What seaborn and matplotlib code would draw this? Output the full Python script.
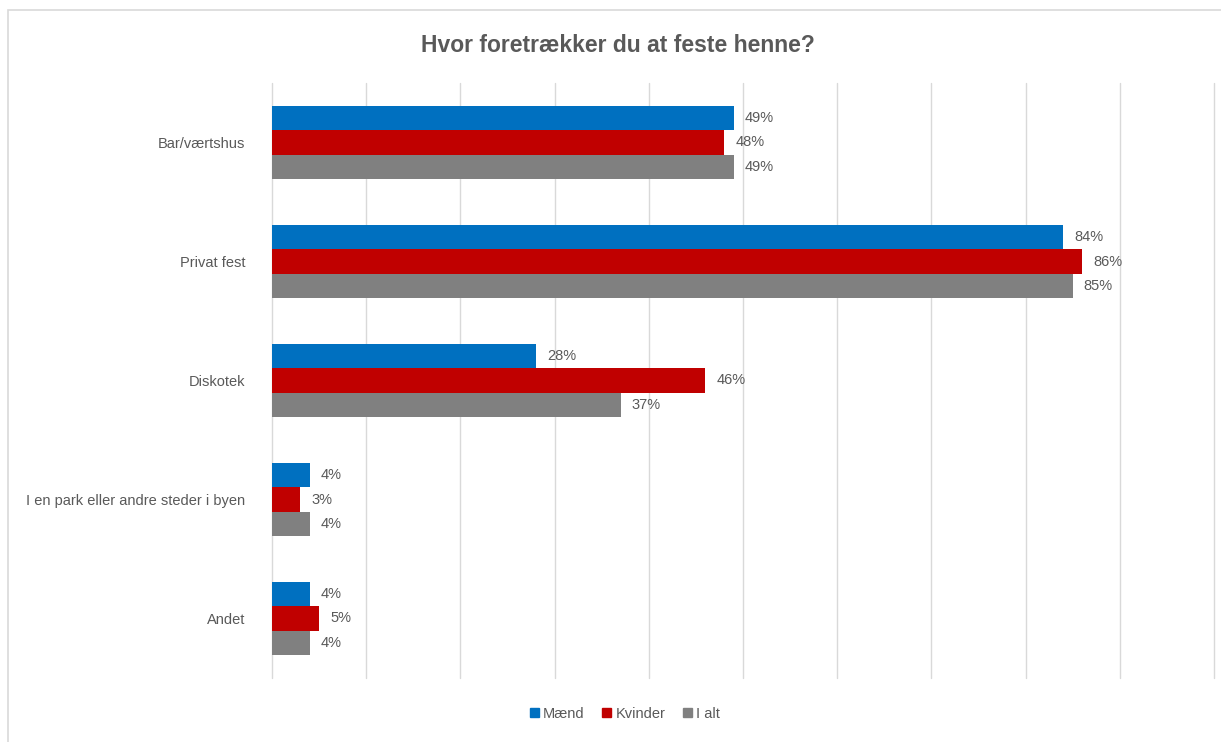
import pandas as pd
import matplotlib.pyplot as plt
import matplotlib.patches as mpatches
import seaborn as sns

# Data (percent)
categories = ["Bar/værtshus", "Privat fest", "Diskotek",
              "I en park eller andre steder i byen", "Andet"]
maend = [49, 84, 28, 4, 4]
kvinder = [48, 86, 46, 3, 5]
i_alt = [49, 85, 37, 4, 4]
series_names = ["Mænd", "Kvinder", "I alt"]
colors = ["#0070C0", "#C00000", "#808080"]

sns.set_style("white")
plt.rcParams['font.family'] = ['Liberation Sans Narrow', 'Liberation Sans', 'DejaVu Sans']
text_color = "#595959"

df = pd.DataFrame({
    "Sted": categories * 3,
    "Serie": [s for s in series_names for _ in categories],
    "Andel": [v / 100 for v in maend + kvinder + i_alt],
})

fig = plt.figure(figsize=(12.21, 7.42), dpi=100)
W, H = 1221, 742
ax = fig.add_axes([272 / W, 1 - 678 / H, (1214 - 272) / W, (678 - 83) / H])

sns.barplot(
    data=df, x="Andel", y="Sted", hue="Serie",
    order=categories, hue_order=series_names,
    palette=dict(zip(series_names, colors)), saturation=1,
    width=0.62, orient="h", ax=ax, legend=False, linewidth=0,
)

for cont in ax.containers:
    ax.bar_label(cont, labels=[f"{v * 100:.0f}%" for v in cont.datavalues],
                 padding=8, fontsize=10.5, color=text_color)

ax.set_xlim(0, 1)
ax.set_xticks([i / 10 for i in range(11)])
ax.set_xticklabels([])
ax.grid(axis="x", color="#D9D9D9", linewidth=1)
for gl in ax.get_xgridlines():
    gl.set_clip_on(False)
ax.set_axisbelow(True)
ax.tick_params(axis="both", length=0)
ax.tick_params(axis="y", pad=19, labelsize=10.5, labelcolor=text_color)
ax.set_xlabel("")
ax.set_ylabel("")
for side in ["top", "right", "bottom", "left"]:
    ax.spines[side].set_visible(False)

fig.suptitle("Hvor foretrækker du at feste henne?", fontsize=16.5, fontweight="bold",
             color=text_color, x=618 / W, y=1 - 45 / H, va="center")

handles = [mpatches.Patch(color=c, label=s) for s, c in zip(series_names, colors)]
fig.legend(handles=handles, loc="center", bbox_to_anchor=(625 / W, 1 - 714 / H),
           ncol=3, frameon=False, fontsize=10.5, handlelength=0.6, handleheight=0.6,
           handletextpad=0.3, columnspacing=1.2, labelcolor=text_color)

# Chart area border
fig.patches.append(mpatches.Rectangle((8 / W, -0.01), 1.0, 1 - 10 / H + 0.01,
                                      transform=fig.transFigure, fill=False,
                                      edgecolor="#D9D9D9", linewidth=1.2))

fig.savefig("out.png", dpi=100)
